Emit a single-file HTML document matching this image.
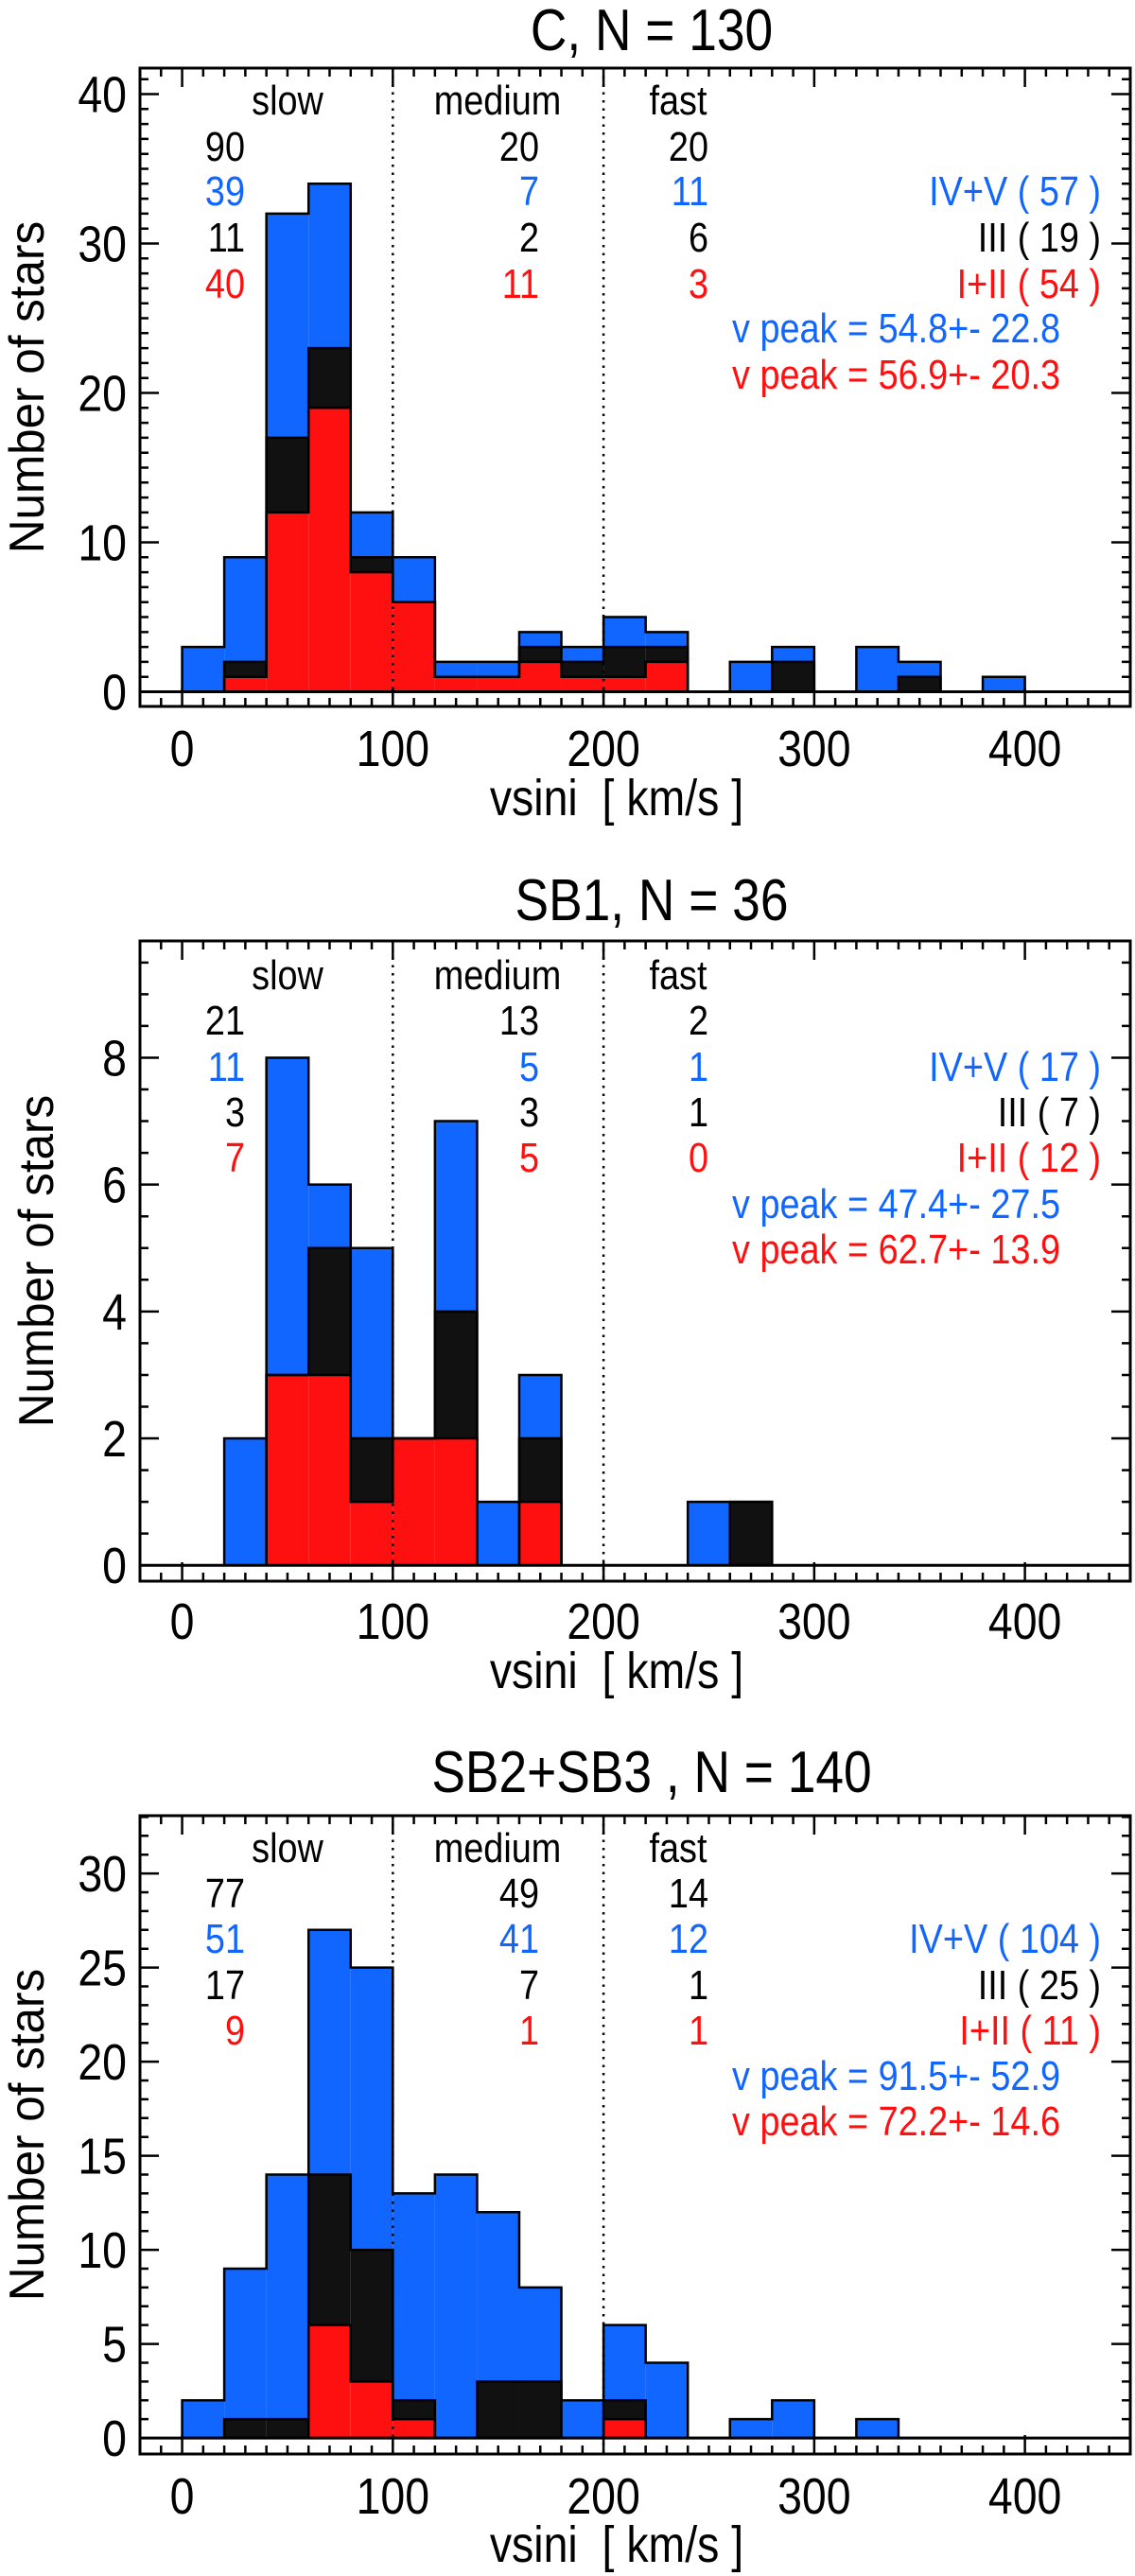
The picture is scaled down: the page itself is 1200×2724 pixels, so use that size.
<!DOCTYPE html>
<html><head><meta charset="utf-8"><style>
html,body{margin:0;padding:0;background:#fff;}
svg{display:block;}
text{font-family:"Liberation Sans",sans-serif;white-space:pre;}
</style></head>
<body>
<svg id="fig" width="1200" height="2724" viewBox="0 0 1200 2724" xmlns="http://www.w3.org/2000/svg"></svg>
<script>
// ---- data ----
const binStarts = [0,20,40,60,80,100,120,140,160,180,200,220,240,260,280,300,320,340,360,380];
const binWidth = 20;
const xTicks = [0,100,200,300,400];
const titles = ["C, N = 130","SB1, N = 36","SB2+SB3 , N = 140"];
// panel C
const redC   = [0,1,12,19,8,6,1,1,2,1,1,2,0,0,0,0,0,0,0,0];
const blackC = [0,1,5,4,1,0,0,0,1,1,2,1,0,0,2,0,0,1,0,0];
const blueC  = [3,7,15,11,3,3,1,1,1,1,2,1,0,2,1,0,3,1,0,1];
// panel SB1
const redSB1   = [0,0,3,3,1,2,2,0,1,0,0,0,0,0,0,0,0,0,0,0];
const blackSB1 = [0,0,0,2,1,0,2,0,1,0,0,0,0,1,0,0,0,0,0,0];
const blueSB1  = [0,2,5,1,3,0,3,1,1,0,0,0,1,0,0,0,0,0,0,0];
// panel SB2+SB3
const redSB2   = [0,0,0,6,3,1,0,0,0,0,1,0,0,0,0,0,0,0,0,0];
const blackSB2 = [0,1,1,8,7,1,0,3,3,0,1,0,0,0,0,0,0,0,0,0];
const blueSB2  = [2,8,13,13,15,11,14,9,5,2,4,4,0,1,2,0,1,0,0,0];
const yTicksC = [0,10,20,30,40];
const yTicksSB1 = [0,2,4,6,8];
const yTicksSB2 = [0,5,10,15,20,25,30];
// annotation counts: [total, IV+V, III, I+II] for slow / medium / fast
const countsC   = [["90","39","11","40"],["20","7","2","11"],["20","11","6","3"]];
const countsSB1 = [["21","11","3","7"],["13","5","3","5"],["2","1","1","0"]];
const countsSB2 = [["77","51","17","9"],["49","41","7","1"],["14","12","1","1"]];
const legendC   = ["IV+V ( 57 )","III ( 19 )","I+II ( 54 )"];
const legendSB1 = ["IV+V ( 17 )","III ( 7 )","I+II ( 12 )"];
const legendSB2 = ["IV+V ( 104 )","III ( 25 )","I+II ( 11 )"];
const peaksC   = ["v peak = 54.8+- 22.8","v peak = 56.9+- 20.3"];
const peaksSB1 = ["v peak = 47.4+- 27.5","v peak = 62.7+- 13.9"];
const peaksSB2 = ["v peak = 91.5+- 52.9","v peak = 72.2+- 14.6"];

const BLUE="#1166ff", RED="#ff1010", BLK="#111";
const NS="http://www.w3.org/2000/svg";
const svg=document.getElementById('fig');
function mk(tag,attrs,parent){const e=document.createElementNS(NS,tag);for(const k in attrs)e.setAttribute(k,attrs[k]);(parent||svg).appendChild(e);return e;}
function txt(parent,x,y,s,size,fill,anchor,name){
  const t=mk('text',{x:0,y:0,'font-size':size,fill:fill,'text-anchor':anchor,transform:`translate(${x},${y}) scale(0.86,1)`},parent);
  
  
  t.textContent=s;return t;
}

const panels=[
 {id:'c',title:titles[0],red:redC,black:blackC,blue:blueC,yt:yTicksC,minor:1,counts:countsC,legend:legendC,peaks:peaksC,
  top:72,bottom:747,ymin:-0.98,ymax:41.74,titleY:53,rows:[106,155,202,251,300],peakY:[347,396],xlabY:810,vsY:862},
 {id:'sb1',title:titles[1],red:redSB1,black:blackSB1,blue:blueSB1,yt:yTicksSB1,minor:0.5,counts:countsSB1,legend:legendSB1,peaks:peaksSB1,
  top:995,bottom:1672,ymin:-0.25,ymax:9.84,titleY:973,rows:[1031,1079,1128,1176,1224],peakY:[1273,1321],xlabY:1733,vsY:1785},
 {id:'sb2',title:titles[2],red:redSB2,black:blackSB2,blue:blueSB2,yt:yTicksSB2,minor:1,counts:countsSB2,legend:legendSB2,peaks:peaksSB2,
  top:1920,bottom:2595,ymin:-0.85,ymax:33.07,titleY:1895,rows:[1954,2002,2050,2099,2147],peakY:[2195,2243],xlabY:2658,vsY:2709}
];
const L=148,R=1195,XMIN=-20,XMAX=450;
const xs=v=>L+(v-XMIN)/(XMAX-XMIN)*(R-L);

panels.forEach(p=>{
  const g=mk('g',{});
  
  
  const ys=v=>p.bottom-(v-p.ymin)/(p.ymax-p.ymin)*(p.bottom-p.top);
  // fills
  binStarts.forEach((b,i)=>{
    const segs=[[p.red[i],RED,'red'],[p.black[i],BLK,'black'],[p.blue[i],BLUE,'blue']];
    let base=0;
    segs.forEach(([n,c,nm])=>{
      if(n>0){
        const r=mk('rect',{x:xs(b),y:ys(base+n),width:xs(b+binWidth)-xs(b),height:ys(base)-ys(base+n),fill:c},g);
        
        
      }
      base+=n;
    });
  });
  // step outlines for cumulative levels
  const levels=[
    binStarts.map((b,i)=>p.red[i]),
    binStarts.map((b,i)=>p.red[i]+p.black[i]),
    binStarts.map((b,i)=>p.red[i]+p.black[i]+p.blue[i])
  ];
  levels.forEach((lv,li)=>{
    let d=`M${xs(binStarts[0])},${ys(0)}`;
    binStarts.forEach((b,i)=>{d+=`L${xs(b)},${ys(lv[i])}L${xs(b+binWidth)},${ys(lv[i])}`;});
    d+=`L${xs(binStarts[binStarts.length-1]+binWidth)},${ys(0)}`;
    const s=mk('path',{d:d,fill:'none',stroke:'#000','stroke-width':2.5,'stroke-linejoin':'miter'},g);
    
    
  });
  // baseline
  const bl=mk('line',{x1:L,x2:R,y1:ys(0),y2:ys(0),stroke:'#000','stroke-width':3},g);
  
  
  // dotted separators
  [100,200].forEach(v=>{
    const d=mk('line',{x1:xs(v),x2:xs(v),y1:p.top,y2:p.bottom,stroke:'#000','stroke-width':2.5,'stroke-dasharray':'2.5 6'},g);
    
    
  });
  // frame
  const fr=mk('rect',{x:L,y:p.top,width:R-L,height:p.bottom-p.top,fill:'none',stroke:'#000','stroke-width':3},g);
  
  
  // ticks
  let tp='';
  for(let v=-10;v<=450;v+=10){const x=xs(v);const len=(v%100===0)?20:9;tp+=`M${x},${p.bottom}v${-len}M${x},${p.top}v${len}`;}
  for(let v=0;v<=p.ymax;v+=p.minor){const y=ys(v);const maj=p.yt.some(t=>Math.abs(t-v)<1e-6);const len=maj?20:9;tp+=`M${L},${y}h${len}M${R},${y}h${-len}`;}
  const tk=mk('path',{d:tp,stroke:'#000','stroke-width':2.5,fill:'none'},g);
  
  
  xTicks.forEach(v=>txt(g,xs(v),p.xlabY,String(v),54,'#000','middle','x-tick-label'));
  p.yt.forEach(v=>txt(g,134,ys(v)+19,String(v),54,'#000','end','y-tick-label'));
  // titles
  txt(g,689,p.titleY,p.title,62,'#000','middle','panel-title');
  txt(g,652,p.vsY,'vsini  [ km/s ]',54,'#000','middle','x-axis-title');
  const yt=mk('text',{x:0,y:0,'font-size':52,fill:'#000','text-anchor':'middle',transform:`translate(${p.id==='sb1'?56:46},${(p.top+p.bottom)/2}) rotate(-90) scale(0.95,1)`},g);
  
  
  yt.textContent='Number of stars';
  // annotations
  const cats=[['slow',304],['medium',526],['fast',717]];
  const rightX=[259,570,749];
  cats.forEach(([c,x])=>txt(g,x,p.rows[0]+15,c,44,'#000','middle','category-'+c));
  const rowCol=['#000',BLUE,'#000',RED];
  p.counts.forEach((col,ci)=>col.forEach((s,ri)=>txt(g,rightX[ci],p.rows[ri+1]+15,s,44,rowCol[ri],'end','count-'+cats[ci][0])));
  const legCol=[BLUE,'#000',RED];
  p.legend.forEach((s,i)=>txt(g,1164,p.rows[i+2]+15,s,44,legCol[i],'end','legend-entry'));
  p.peaks.forEach((s,i)=>txt(g,1121,p.peakY[i]+15,s,44,i?RED:BLUE,'end','v-peak-label'));
});
</script>
</body></html>
